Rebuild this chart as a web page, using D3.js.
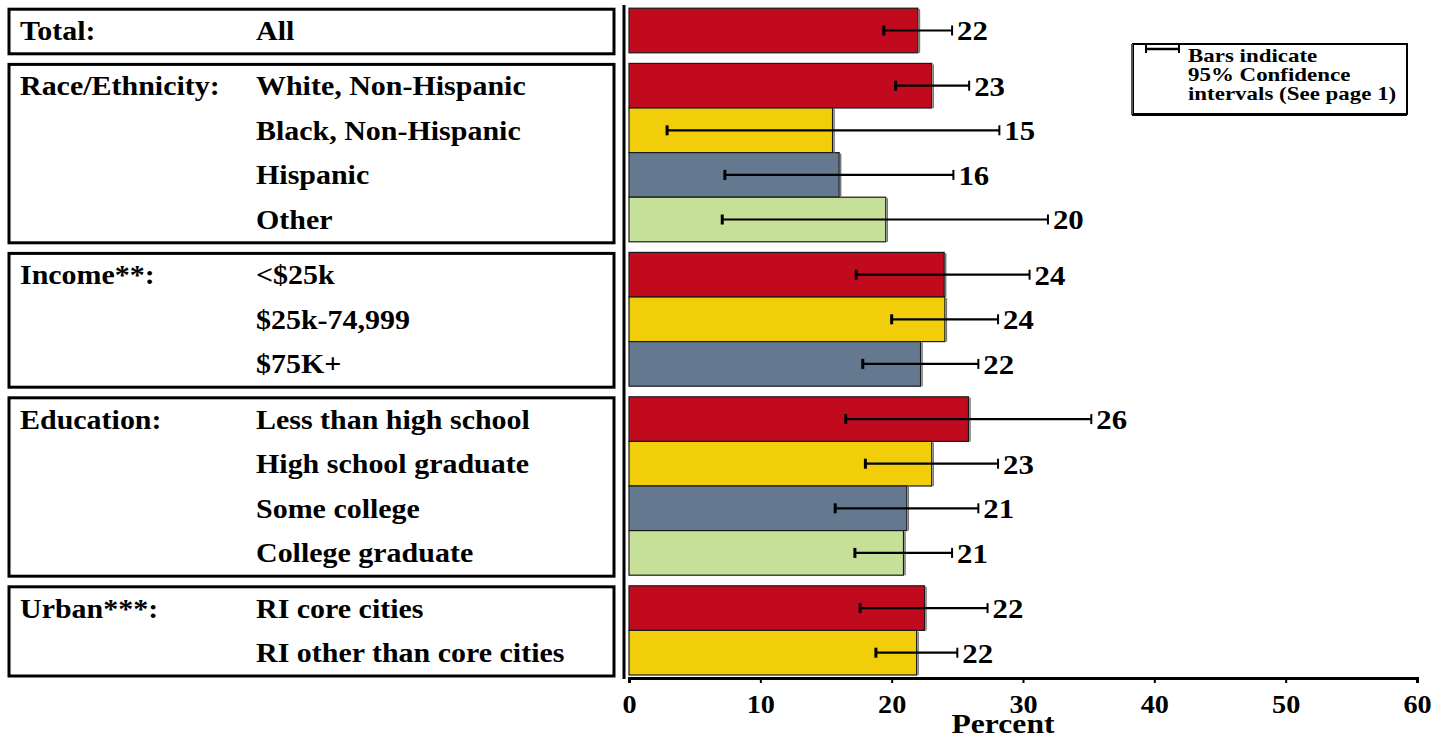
<!DOCTYPE html>
<html><head><meta charset="utf-8">
<script src="https://cdn.jsdelivr.net/npm/d3@7"></script>
<style>
html,body{margin:0;padding:0;background:#fff;}
text{font-family:"Liberation Serif","Times New Roman",serif;font-weight:bold;fill:#000;}
</style></head>
<body><svg id="c" width="1445" height="740"></svg>
<script>
const groups = ["Total:", "Race/Ethnicity:", "Income**:", "Education:", "Urban***:"];
const groupSizes = [1, 4, 3, 4, 2];
const categories = ["All", "White, Non-Hispanic", "Black, Non-Hispanic", "Hispanic", "Other",
  "<$25k", "$25k-74,999", "$75K+",
  "Less than high school", "High school graduate", "Some college", "College graduate",
  "RI core cities", "RI other than core cities"];
const values = [22.0, 23.05, 15.5, 16.0, 19.55, 24.0, 24.05, 22.2, 25.85, 23.05, 21.15, 20.9, 22.5, 21.9];
const lower  = [19.4, 20.3, 2.9, 7.3, 7.1, 17.3, 20.0, 17.8, 16.5, 18.0, 15.7, 17.2, 17.6, 18.8];
const upper  = [24.6, 25.9, 28.2, 24.7, 31.9, 30.5, 28.1, 26.6, 35.2, 28.1, 26.6, 24.6, 27.3, 25.0];
const valueLabels = ["22", "23", "15", "16", "20", "24", "24", "22", "26", "23", "21", "21", "22", "22"];
const xTicks = [0, 10, 20, 30, 40, 50, 60];
const palette = ["#C20A1F", "#F2CD09", "#64788F", "#C6E097"];
const legendLines = ["Bars indicate", "95% Confidence", "intervals (See page 1)"];

const svg = d3.select("#c");
const x = d3.scaleLinear().domain([0, 60]).range([629, 1417]);

function addText(g, tx, ty, str, size, stretch, anchor) {
  return g.append("text")
    .attr("transform", `translate(${tx},${ty}) scale(${stretch},1)`)
    .attr("dy", "0.35em")
    .attr("text-anchor", anchor || "start")
    .style("font-size", size + "px")
    .text(str);
}

// row layout
const rowStep = 44.6, groupGap = 10.6, firstCenter = 30.5;
const rows = [];
let idx = 0;
groupSizes.forEach((n, g) => {
  for (let k = 0; k < n; k++) {
    rows.push({i: idx, g, k, center: firstCenter + idx * rowStep + g * groupGap});
    idx++;
  }
});

// left group boxes
const boxes = svg.append("g");
groupSizes.forEach((n, g) => {
  const rs = rows.filter(r => r.g === g);
  const top = rs[0].center - rowStep / 2 + 1;
  const bot = rs[rs.length - 1].center + rowStep / 2 + 1;
  boxes.append("rect").attr("x", 9).attr("y", top).attr("width", 605).attr("height", bot - top)
    .attr("fill", "none").attr("stroke", "#000").attr("stroke-width", 3);
  addText(boxes, 20, rs[0].center, groups[g], 27, 1.11);
});
rows.forEach(r => addText(boxes, 256, r.center, categories[r.i], 27, 1.11));

// vertical divider
svg.append("line").attr("x1", 624).attr("x2", 624).attr("y1", 5).attr("y2", 679)
  .attr("stroke", "#000").attr("stroke-width", 3);

// bars
svg.append("g").selectAll("rect").data(rows).join("rect")
  .attr("x", x(0)).attr("y", r => r.center - rowStep / 2)
  .attr("width", r => x(values[r.i]) - x(0)).attr("height", rowStep)
  .attr("fill", r => palette[r.k]).attr("stroke", "#1a1a1a").attr("stroke-width", 1.2);
// slight shadow on the right edge of bars
svg.append("g").selectAll("line").data(rows).join("line")
  .attr("x1", r => x(values[r.i]) + 1.5).attr("x2", r => x(values[r.i]) + 1.5)
  .attr("y1", r => r.center - rowStep / 2 + 1).attr("y2", r => r.center + rowStep / 2)
  .attr("stroke", "#777").attr("stroke-width", 1.5);

// error bars
const eb = svg.append("g").attr("stroke", "#000");
const labels = svg.append("g");
rows.forEach(r => {
  const cy = r.center;
  eb.append("line").attr("x1", x(lower[r.i])).attr("x2", x(upper[r.i])).attr("y1", cy).attr("y2", cy).attr("stroke-width", 2.2);
  eb.append("line").attr("x1", x(lower[r.i])).attr("x2", x(lower[r.i])).attr("y1", cy - 5).attr("y2", cy + 5).attr("stroke-width", 3);
  eb.append("line").attr("x1", x(upper[r.i])).attr("x2", x(upper[r.i])).attr("y1", cy - 5).attr("y2", cy + 5).attr("stroke-width", 2);
  addText(labels, x(upper[r.i]) + 5, cy, valueLabels[r.i], 28, 1.1);
});

// x axis
const axis = d3.axisBottom(x).tickValues(xTicks).tickSize(5).tickPadding(12).tickFormat(d3.format("d"));
const ag = svg.append("g").attr("transform", "translate(0,678)").call(axis);
ag.select(".domain").attr("stroke", "#000").attr("stroke-width", 3);
ag.selectAll(".tick line").attr("stroke", "#000").attr("stroke-width", 2);
ag.selectAll(".tick text").style("font-size", "25px").style("font-family", "'Liberation Serif',serif")
  .style("font-weight", "bold").attr("fill", "#000").attr("transform", "scale(1.13,1)");
addText(svg, 1003, 723, "Percent", 28, 1.13, "middle");

// legend
const lg = svg.append("g");
lg.append("rect").attr("x", 1133).attr("y", 44).attr("width", 274).attr("height", 70)
  .attr("fill", "#fff").attr("stroke", "#000").attr("stroke-width", 2);
lg.append("line").attr("x1", 1132).attr("x2", 1132).attr("y1", 44).attr("y2", 115).attr("stroke", "#555").attr("stroke-width", 2);
lg.append("line").attr("x1", 1132).attr("x2", 1407).attr("y1", 115).attr("y2", 115).attr("stroke", "#000").attr("stroke-width", 2);
lg.append("line").attr("x1", 1146).attr("x2", 1179).attr("y1", 49).attr("y2", 49).attr("stroke", "#000").attr("stroke-width", 2.5);
lg.append("line").attr("x1", 1146).attr("x2", 1146).attr("y1", 45).attr("y2", 53).attr("stroke", "#000").attr("stroke-width", 2);
lg.append("line").attr("x1", 1179).attr("x2", 1179).attr("y1", 45).attr("y2", 53).attr("stroke", "#000").attr("stroke-width", 2);
legendLines.forEach((t, i) => addText(lg, 1188, 56 + i * 19, t, 18.5, 1.24));
</script></body></html>
